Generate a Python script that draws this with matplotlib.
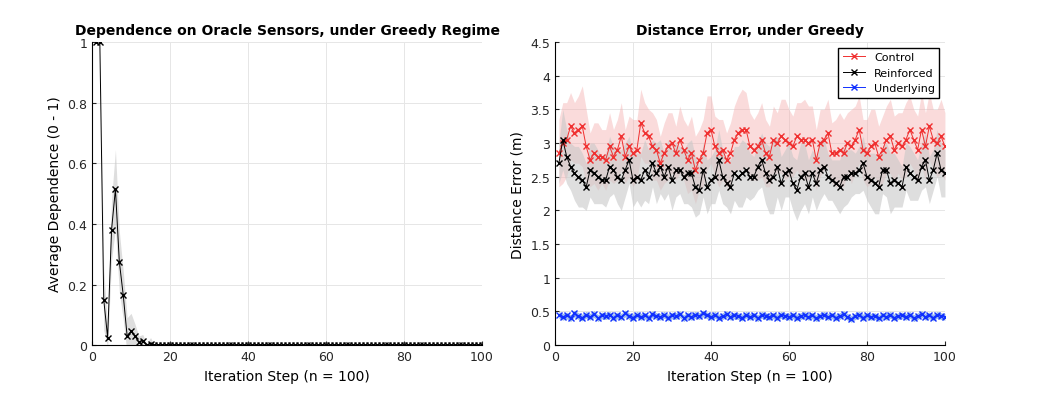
import numpy as np
import matplotlib
matplotlib.use("Agg")
import matplotlib.pyplot as plt

steps = np.arange(1, 101)
dep_mean = [1, 1, 0.15, 0.025, 0.38, 0.515, 0.275, 0.165, 0.03, 0.045, 0.03, 0.01, 0.015, 0.0, 0.005] + [0.0]*85
dep_std = [0, 0, 0.1, 0.03, 0.1, 0.13, 0.1, 0.08, 0.06, 0.06, 0.04, 0.02, 0.02, 0.005, 0.02] + [0.0]*85

control = [2.85,3.0,3.05,3.25,3.15,3.2,3.25,2.95,2.75,2.85,2.8,2.8,2.75,2.95,2.8,2.9,3.1,2.8,2.95,2.85,
           2.9,3.3,3.15,3.1,2.95,2.9,2.7,2.85,2.95,3.0,2.85,3.05,2.9,2.75,2.85,2.6,2.75,2.85,3.15,3.2,
           2.95,2.85,2.9,2.75,2.85,3.05,3.15,3.2,3.2,2.95,2.9,2.95,3.05,2.85,2.8,3.05,3.0,3.1,3.05,3.0,
           2.95,3.1,3.05,3.05,3.0,3.05,2.75,3.0,3.05,3.15,2.85,2.85,2.9,2.85,3.0,2.95,3.05,3.2,2.9,2.85,
           2.95,3.0,2.8,2.9,3.05,3.1,2.9,3.0,2.95,3.05,3.2,3.05,2.9,3.2,2.95,3.25,3.05,3.0,3.1,2.95]
control_std = [0.5,0.6,0.55,0.5,0.45,0.5,0.6,0.55,0.4,0.45,0.5,0.4,0.45,0.5,0.4,0.45,0.5,0.4,0.45,0.5,
               0.45,0.5,0.45,0.4,0.5,0.45,0.4,0.45,0.5,0.45,0.4,0.5,0.45,0.5,0.55,0.5,0.45,0.5,0.55,0.5,
               0.45,0.5,0.45,0.4,0.45,0.5,0.55,0.6,0.55,0.5,0.45,0.5,0.55,0.5,0.45,0.5,0.45,0.55,0.6,0.5,
               0.45,0.5,0.55,0.6,0.55,0.5,0.45,0.5,0.45,0.5,0.45,0.5,0.55,0.5,0.45,0.55,0.5,0.5,0.45,0.5,
               0.55,0.5,0.45,0.5,0.5,0.55,0.5,0.45,0.5,0.55,0.5,0.45,0.5,0.55,0.5,0.5,0.45,0.5,0.55,0.5]
reinforced = [2.7,3.05,2.8,2.65,2.55,2.5,2.45,2.35,2.6,2.55,2.5,2.45,2.45,2.65,2.6,2.5,2.45,2.6,2.75,2.45,
              2.5,2.45,2.6,2.5,2.7,2.55,2.65,2.5,2.65,2.45,2.6,2.6,2.5,2.55,2.55,2.35,2.3,2.6,2.35,2.45,
              2.5,2.75,2.5,2.4,2.35,2.55,2.5,2.55,2.6,2.5,2.5,2.65,2.75,2.55,2.45,2.5,2.65,2.4,2.55,2.6,
              2.4,2.3,2.5,2.55,2.35,2.55,2.4,2.6,2.65,2.5,2.45,2.4,2.35,2.5,2.5,2.55,2.55,2.6,2.7,2.5,
              2.45,2.4,2.35,2.6,2.6,2.4,2.45,2.4,2.35,2.65,2.55,2.5,2.45,2.65,2.75,2.45,2.6,2.85,2.6,2.55]
reinforced_std = [0.3,0.45,0.4,0.35,0.4,0.45,0.4,0.35,0.4,0.45,0.4,0.35,0.4,0.45,0.35,0.4,0.45,0.4,0.35,0.4,
                  0.35,0.4,0.45,0.4,0.35,0.45,0.4,0.35,0.4,0.45,0.4,0.35,0.4,0.45,0.5,0.45,0.35,0.4,0.4,0.35,
                  0.4,0.45,0.4,0.35,0.4,0.4,0.45,0.5,0.4,0.35,0.3,0.35,0.4,0.45,0.5,0.55,0.45,0.4,0.35,0.4,
                  0.4,0.45,0.5,0.45,0.4,0.35,0.4,0.45,0.4,0.35,0.3,0.35,0.4,0.45,0.4,0.35,0.3,0.35,0.4,0.35,
                  0.4,0.45,0.4,0.35,0.4,0.45,0.4,0.35,0.3,0.35,0.4,0.35,0.3,0.35,0.4,0.35,0.3,0.35,0.4,0.35]
underlying = [0.45,0.42,0.44,0.40,0.47,0.43,0.41,0.45,0.42,0.46,0.40,0.44,0.43,0.45,0.41,0.44,0.42,0.47,0.43,0.41,
              0.45,0.42,0.44,0.40,0.46,0.43,0.42,0.45,0.41,0.44,0.43,0.46,0.40,0.44,0.42,0.45,0.43,0.47,0.44,0.42,
              0.45,0.41,0.43,0.46,0.42,0.44,0.43,0.41,0.45,0.42,0.44,0.40,0.45,0.43,0.42,0.44,0.41,0.45,0.43,0.42,
              0.44,0.41,0.43,0.45,0.42,0.44,0.40,0.43,0.45,0.42,0.44,0.41,0.43,0.46,0.42,0.39,0.43,0.45,0.41,0.44,
              0.42,0.43,0.40,0.44,0.42,0.45,0.41,0.43,0.44,0.42,0.45,0.40,0.43,0.46,0.42,0.44,0.41,0.45,0.43,0.42]
underlying_std = [0.05]*100

fig = plt.figure(figsize=(10.64, 4.02), dpi=100)
ax1 = fig.add_axes([0.0865, 0.139, 0.3665, 0.754])
ax2 = fig.add_axes([0.5216, 0.139, 0.3665, 0.754])

def band(ax, m, s, fc, alpha):
    m = np.array(m); s = np.array(s)
    ax.fill_between(steps, m - s, m + s, color=fc, alpha=alpha, lw=0)

band(ax1, dep_mean, dep_std, '#c8c8c8', 0.6)
ax1.plot(steps, dep_mean, color='k', marker='x', ms=4, lw=0.7)
ax1.set_xlim(0, 100); ax1.set_ylim(0, 1)
ax1.set_yticks([0, 0.2, 0.4, 0.6, 0.8, 1]); ax1.set_yticklabels(['0', '0.2', '0.4', '0.6', '0.8', '1'])
ax1.set_title('Dependence on Oracle Sensors, under Greedy Regime', fontsize=10, fontweight='bold')
ax1.set_xlabel('Iteration Step (n = 100)', fontsize=10)
ax1.set_ylabel('Average Dependence (0 - 1)', fontsize=10)

band(ax2, control, control_std, '#f4b0b0', 0.45)
band(ax2, reinforced, reinforced_std, '#c8c8c8', 0.6)
band(ax2, underlying, underlying_std, '#5b8fe0', 0.6)
ax2.plot(steps, control, color='#f03030', marker='x', ms=4, lw=0.7, label='Control')
ax2.plot(steps, reinforced, color='k', marker='x', ms=4, lw=0.7, label='Reinforced')
ax2.plot(steps, underlying, color='#1030ff', marker='x', ms=4, lw=0.7, label='Underlying')
ax2.set_xlim(0, 100); ax2.set_ylim(0, 4.5)
ax2.set_yticks(np.arange(0, 4.6, 0.5)); ax2.set_yticklabels(['0','0.5','1','1.5','2','2.5','3','3.5','4','4.5'])
ax2.set_title('Distance Error, under Greedy', fontsize=10, fontweight='bold')
ax2.set_xlabel('Iteration Step (n = 100)', fontsize=10)
ax2.set_ylabel('Distance Error (m)', fontsize=10)
leg = ax2.legend(loc='upper right', fontsize=8, fancybox=False, edgecolor='k', framealpha=1)

for ax in (ax1, ax2):
    ax.set_xticks([0, 20, 40, 60, 80, 100])
    ax.grid(True, color='#e6e6e6', lw=0.7)
    ax.set_axisbelow(True)
    ax.tick_params(labelsize=9, direction='in', length=3, colors='#262626')
    for sp in ('top', 'right'):
        ax.spines[sp].set_visible(False)

fig.savefig('out.png', dpi=100)
